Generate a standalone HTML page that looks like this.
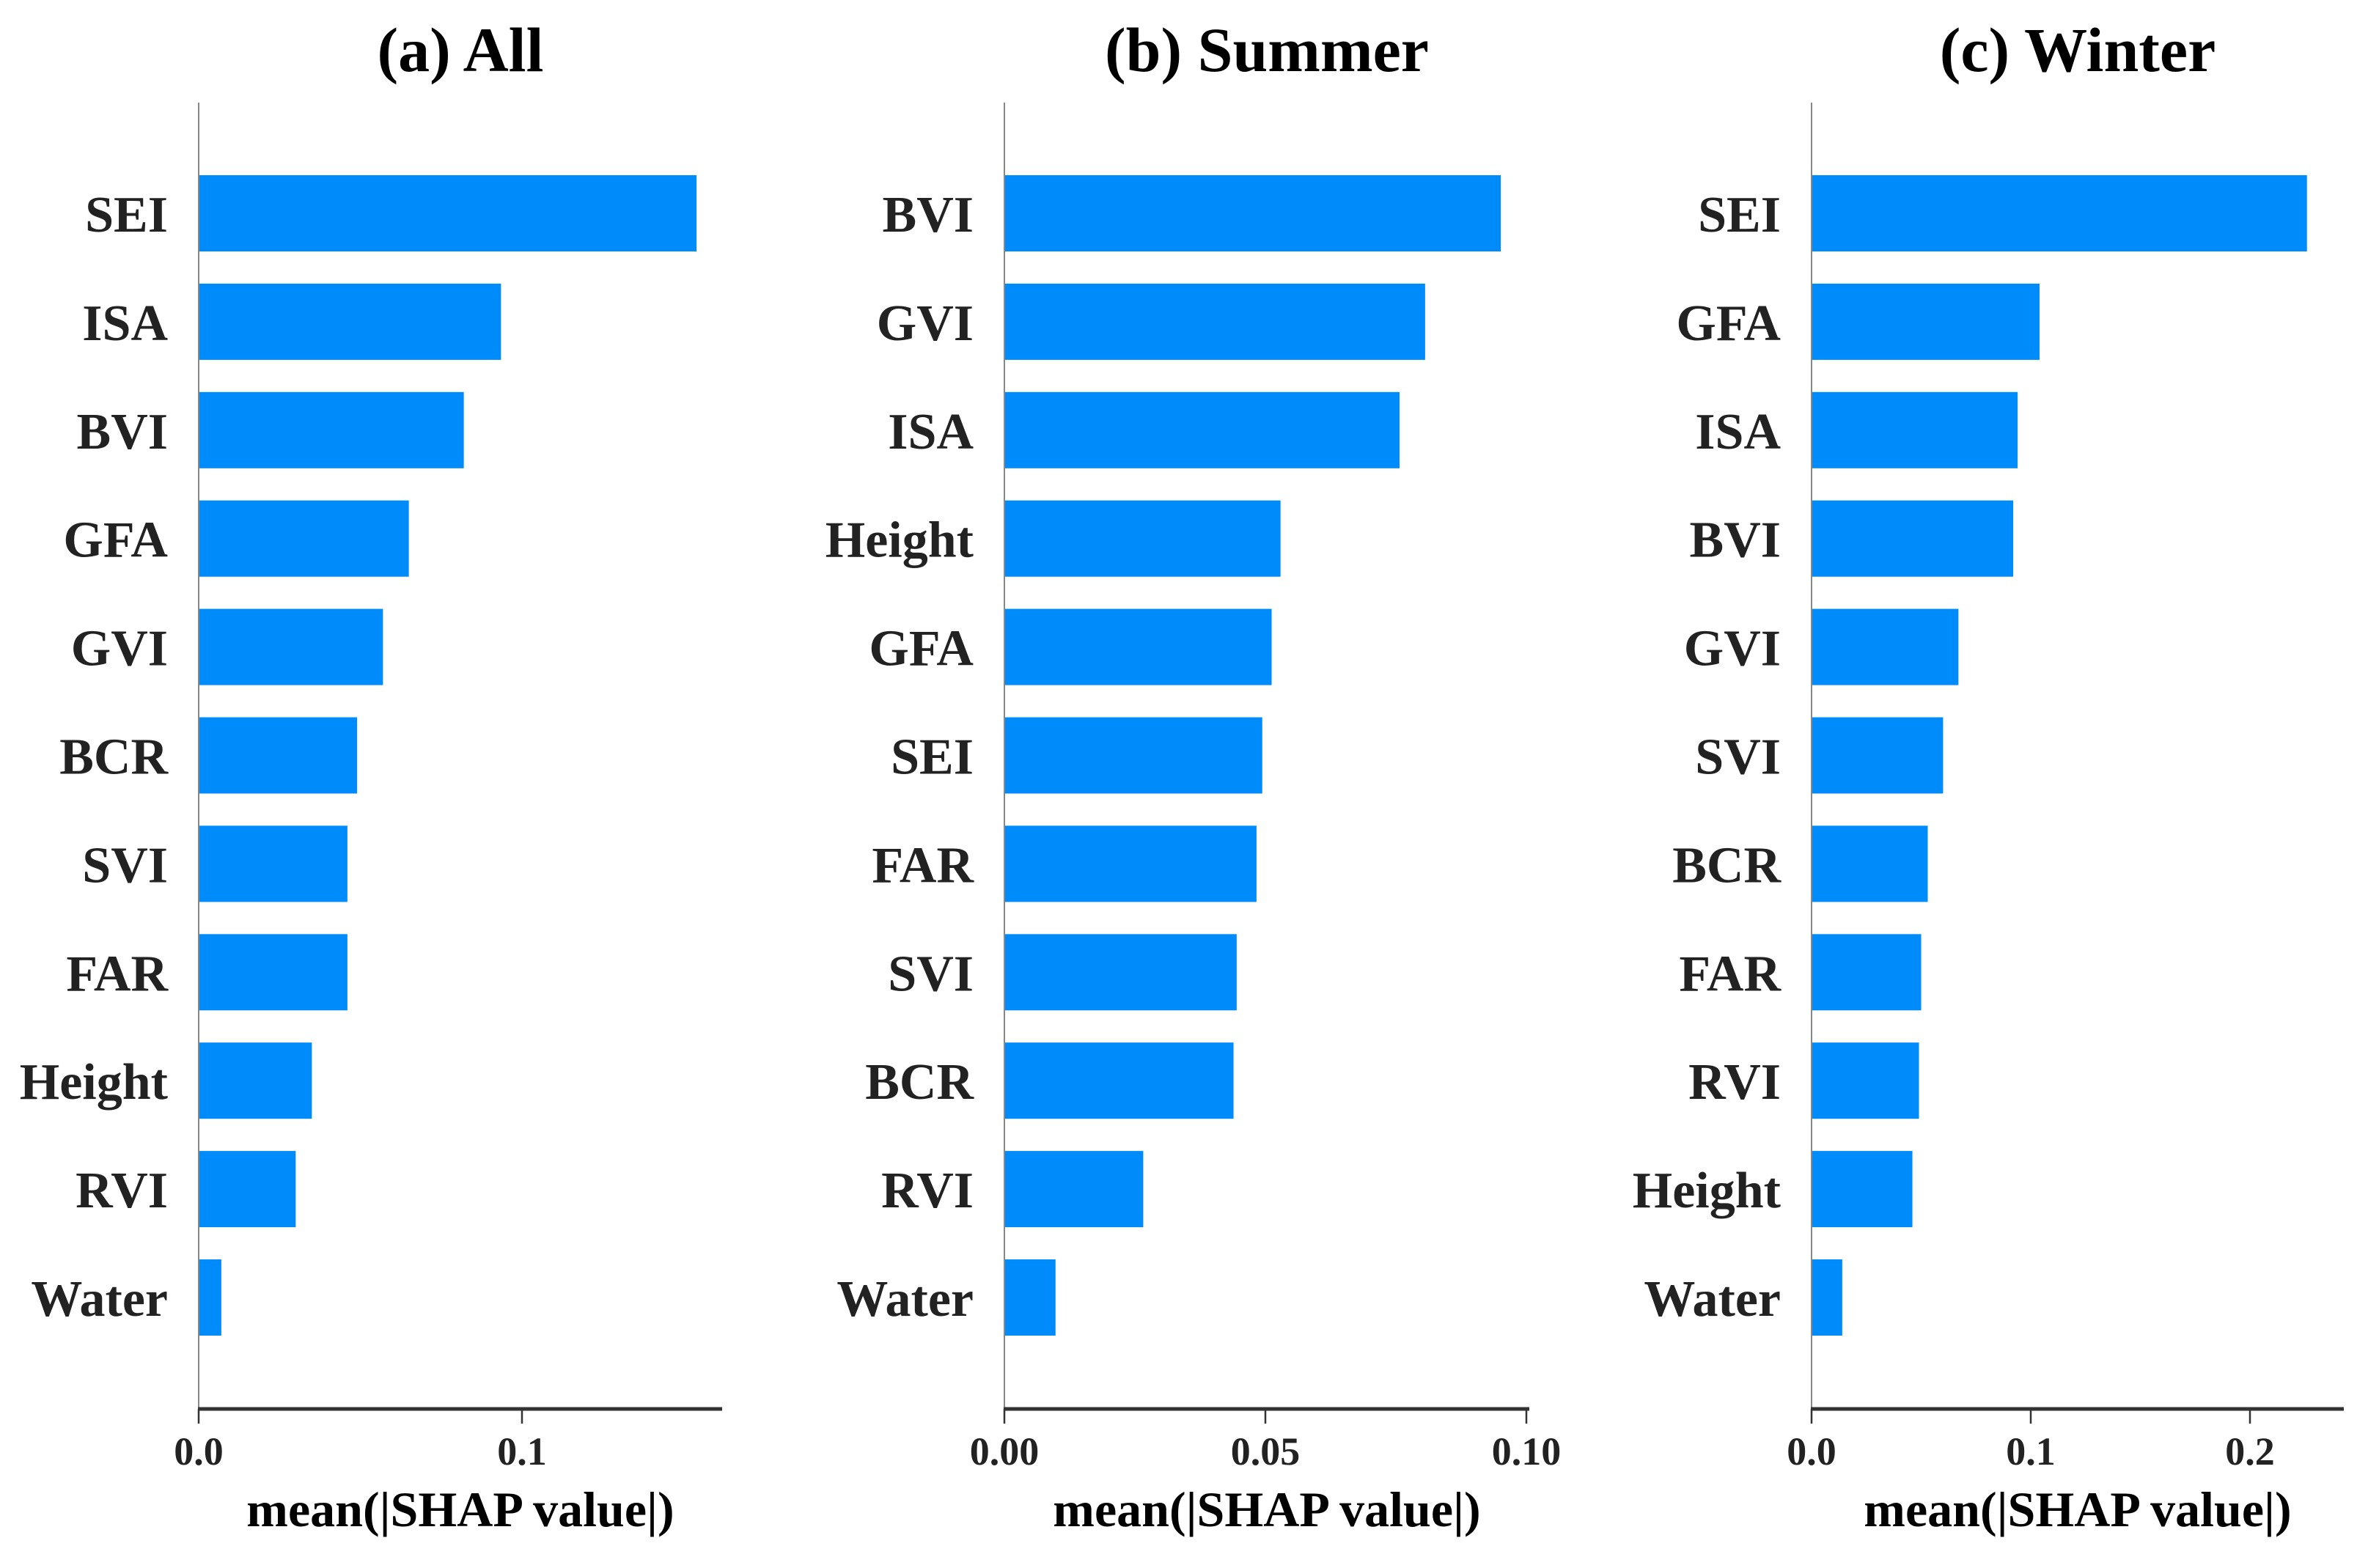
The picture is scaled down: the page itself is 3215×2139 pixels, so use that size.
<!DOCTYPE html>
<html><head><meta charset="utf-8">
<style>
html,body{margin:0;padding:0;background:#fff;}
svg{display:block;}
text{font-family:"Liberation Serif",serif;font-weight:bold;fill:#222;}
</style></head>
<body>
<svg id="chart" width="3215" height="2139" viewBox="0 0 3215 2139" xmlns="http://www.w3.org/2000/svg"></svg>
<script>
// ---- data ----
const panelTitles = ["(a) All", "(b) Summer", "(c) Winter"];
const featuresAll = ["SEI","ISA","BVI","GFA","GVI","BCR","SVI","FAR","Height","RVI","Water"];
const valuesAll = [0.154,0.0935,0.082,0.065,0.057,0.049,0.046,0.046,0.035,0.030,0.007];
const featuresSummer = ["BVI","GVI","ISA","Height","GFA","SEI","FAR","SVI","BCR","RVI","Water"];
const valuesSummer = [0.0951,0.0806,0.0757,0.0529,0.0512,0.0494,0.0483,0.0445,0.0439,0.0266,0.0098];
const featuresWinter = ["SEI","GFA","ISA","BVI","GVI","SVI","BCR","FAR","RVI","Height","Water"];
const valuesWinter = [0.226,0.104,0.094,0.092,0.067,0.060,0.053,0.050,0.049,0.046,0.014];
const ticksAll = [0, 0.1];
const tickLabelsAll = ["0.0","0.1"];
const ticksSummer = [0, 0.05, 0.10];
const tickLabelsSummer = ["0.00","0.05","0.10"];
const ticksWinter = [0, 0.1, 0.2];
const tickLabelsWinter = ["0.0","0.1","0.2"];
const xLabel = "mean(|SHAP value|)";

// ---- layout ----
const NS = "http://www.w3.org/2000/svg";
const svg = document.getElementById('chart');
const layouts = [
  {x0:271, pxPerUnit:4410, xEnd:985},
  {x0:1370, pxPerUnit:7120, xEnd:2086},
  {x0:2471, pxPerUnit:2990, xEnd:3197}
];
const panels = [
  {key:"all", feats:featuresAll, vals:valuesAll, ticks:ticksAll, tl:tickLabelsAll},
  {key:"summer", feats:featuresSummer, vals:valuesSummer, ticks:ticksSummer, tl:tickLabelsSummer},
  {key:"winter", feats:featuresWinter, vals:valuesWinter, ticks:ticksWinter, tl:tickLabelsWinter}
];
const yTop = 140, axisY = 1922, firstCenter = 291, pitch = 147.9, barH = 104;

function mk(tag, attrs){const e=document.createElementNS(NS,tag);for(const k in attrs)e.setAttribute(k,attrs[k]);return e;}

panels.forEach((p,pi)=>{
  const L = layouts[pi];
  const xs = v => L.x0 + v*L.pxPerUnit;
  const ys = i => firstCenter + i*pitch;
  const g = mk('g',{});
  
  
  svg.appendChild(g);

  const xMid = (L.x0 + L.xEnd)/2;
  const title = mk('text',{x:xMid, y:97, 'text-anchor':'middle','font-size':86});
  
  
  title.textContent = panelTitles[pi];
  title.style.fill = '#000';
  g.appendChild(title);

  p.vals.forEach((v,i)=>{
    const r = mk('rect',{x:xs(0), y:ys(i)-barH/2, width:Math.max(0,xs(v)-xs(0)), height:barH, fill:'#008bfb'});
    
    
    g.appendChild(r);
    const t = mk('text',{x:L.x0-42, y:ys(i)+25, 'text-anchor':'end','font-size':70});
    
    
    t.textContent = p.feats[i];
    g.appendChild(t);
  });

  const yAxis = mk('line',{x1:L.x0, y1:yTop, x2:L.x0, y2:axisY, stroke:'#888', 'stroke-width':2});
  
  
  g.appendChild(yAxis);

  const xAxis = mk('line',{x1:L.x0-1, y1:axisY, x2:L.xEnd, y2:axisY, stroke:'#333', 'stroke-width':5});
  
  
  g.appendChild(xAxis);

  p.ticks.forEach((tv,ti)=>{
    const tk = mk('line',{x1:xs(tv), y1:axisY, x2:xs(tv), y2:axisY+20, stroke:'#333', 'stroke-width':2.5});
    
    
    g.appendChild(tk);
    const tl = mk('text',{x:xs(tv), y:1998, 'text-anchor':'middle','font-size':54});
    
    
    tl.textContent = p.tl[ti];
    g.appendChild(tl);
  });

  const xl = mk('text',{x:xMid, y:2082, 'text-anchor':'middle','font-size':68});
  
  
  xl.textContent = xLabel;
  xl.style.fill = '#000';
  g.appendChild(xl);
});
</script>
</body></html>
